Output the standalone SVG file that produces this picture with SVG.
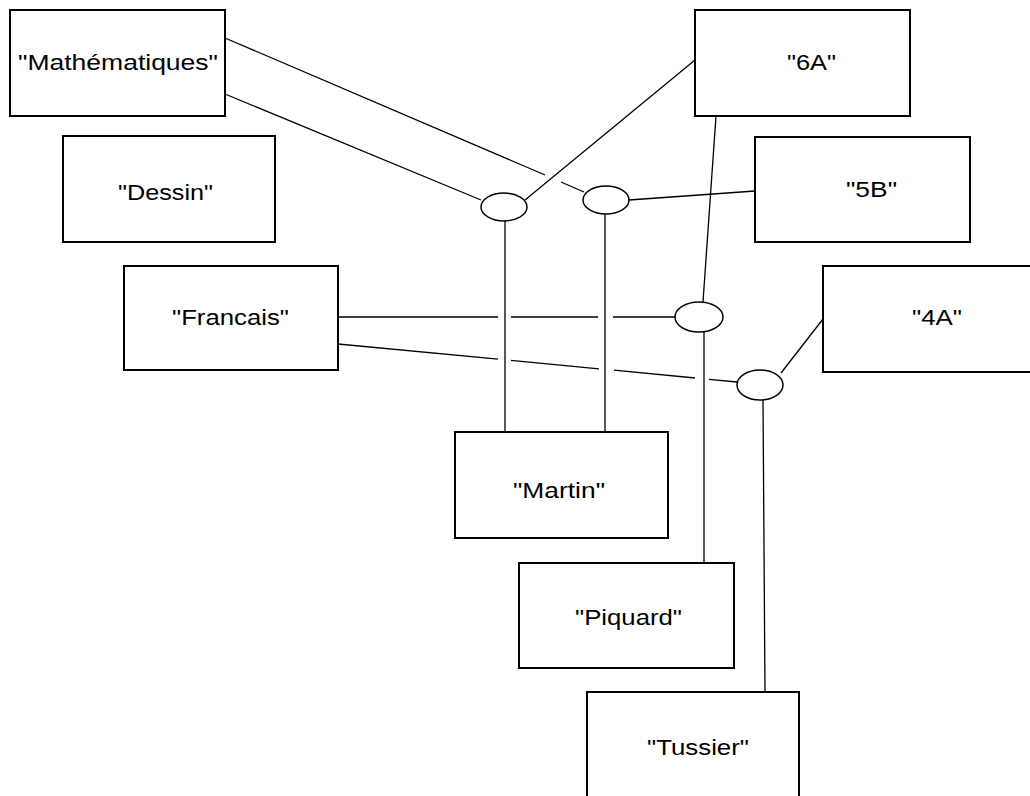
<svg xmlns="http://www.w3.org/2000/svg" width="1030" height="796" viewBox="0 0 1030 796">
<style>
.box{fill:#fff;stroke:#000;stroke-width:2}
.t{font-family:"Liberation Sans",Arial,sans-serif;font-size:22px;fill:#000}
.c line,.c polyline{stroke:#000;stroke-width:1.3;fill:none}
.rel{fill:#fff;stroke:#000;stroke-width:1.5}
</style>
<rect width="1030" height="796" fill="#fff"/>
<g class="c" id="connectors">
<line x1="225" y1="38" x2="545" y2="175"/>
<line x1="561" y1="182" x2="584" y2="192"/>
<line x1="225" y1="94" x2="481" y2="200"/>
<line x1="695" y1="60" x2="525" y2="200"/>
<line x1="629" y1="200" x2="755" y2="191"/>
<line x1="716" y1="116" x2="703" y2="302"/>
<line x1="338" y1="317" x2="498" y2="317"/>
<line x1="511" y1="317" x2="598" y2="317"/>
<line x1="613" y1="317" x2="675" y2="317"/>
<line x1="338" y1="344" x2="498" y2="359.2"/>
<line x1="511" y1="360.4" x2="599" y2="368.8"/>
<line x1="614" y1="370.2" x2="695" y2="378"/>
<line x1="709" y1="379.3" x2="737" y2="382"/>
<line x1="781" y1="373" x2="823" y2="319"/>
<line x1="505" y1="221" x2="505" y2="432"/>
<line x1="605" y1="214" x2="605" y2="432"/>
<line x1="704" y1="332" x2="704" y2="563"/>
<line x1="763" y1="400" x2="765" y2="692"/>
</g>
<g id="rel1"><ellipse class="rel" cx="504" cy="207" rx="23" ry="14"/></g>
<g id="rel2"><ellipse class="rel" cx="606" cy="200" rx="23" ry="14"/></g>
<g id="rel3"><ellipse class="rel" cx="699" cy="317" rx="24" ry="15"/></g>
<g id="rel4"><ellipse class="rel" cx="760" cy="385" rx="23" ry="15"/></g>
<g id="mathematiques"><rect class="box" x="10" y="10" width="215" height="106"/><text class="t" x="18" y="70" textLength="200" lengthAdjust="spacingAndGlyphs">"Mathématiques"</text></g>
<g id="dessin"><rect class="box" x="63" y="136" width="212" height="106"/><text class="t" x="118" y="200" textLength="95" lengthAdjust="spacingAndGlyphs">"Dessin"</text></g>
<g id="g6A"><rect class="box" x="695" y="10" width="215" height="106"/><text class="t" x="787" y="70" textLength="49" lengthAdjust="spacingAndGlyphs">"6A"</text></g>
<g id="g5B"><rect class="box" x="755" y="137" width="215" height="105"/><text class="t" x="846" y="197" textLength="51" lengthAdjust="spacingAndGlyphs">"5B"</text></g>
<g id="francais"><rect class="box" x="124" y="266" width="214" height="104"/><text class="t" x="172" y="325" textLength="117" lengthAdjust="spacingAndGlyphs">"Francais"</text></g>
<g id="g4A"><rect class="box" x="823" y="266" width="220" height="106"/><text class="t" x="912" y="325" textLength="50" lengthAdjust="spacingAndGlyphs">"4A"</text></g>
<g id="martin"><rect class="box" x="455" y="432" width="213" height="106"/><text class="t" x="513" y="498" textLength="92" lengthAdjust="spacingAndGlyphs">"Martin"</text></g>
<g id="piquard"><rect class="box" x="519" y="563" width="215" height="105"/><text class="t" x="575" y="625" textLength="107" lengthAdjust="spacingAndGlyphs">"Piquard"</text></g>
<g id="tussier"><rect class="box" x="587" y="692" width="212" height="120"/><text class="t" x="647" y="755" textLength="102" lengthAdjust="spacingAndGlyphs">"Tussier"</text></g>
</svg>
